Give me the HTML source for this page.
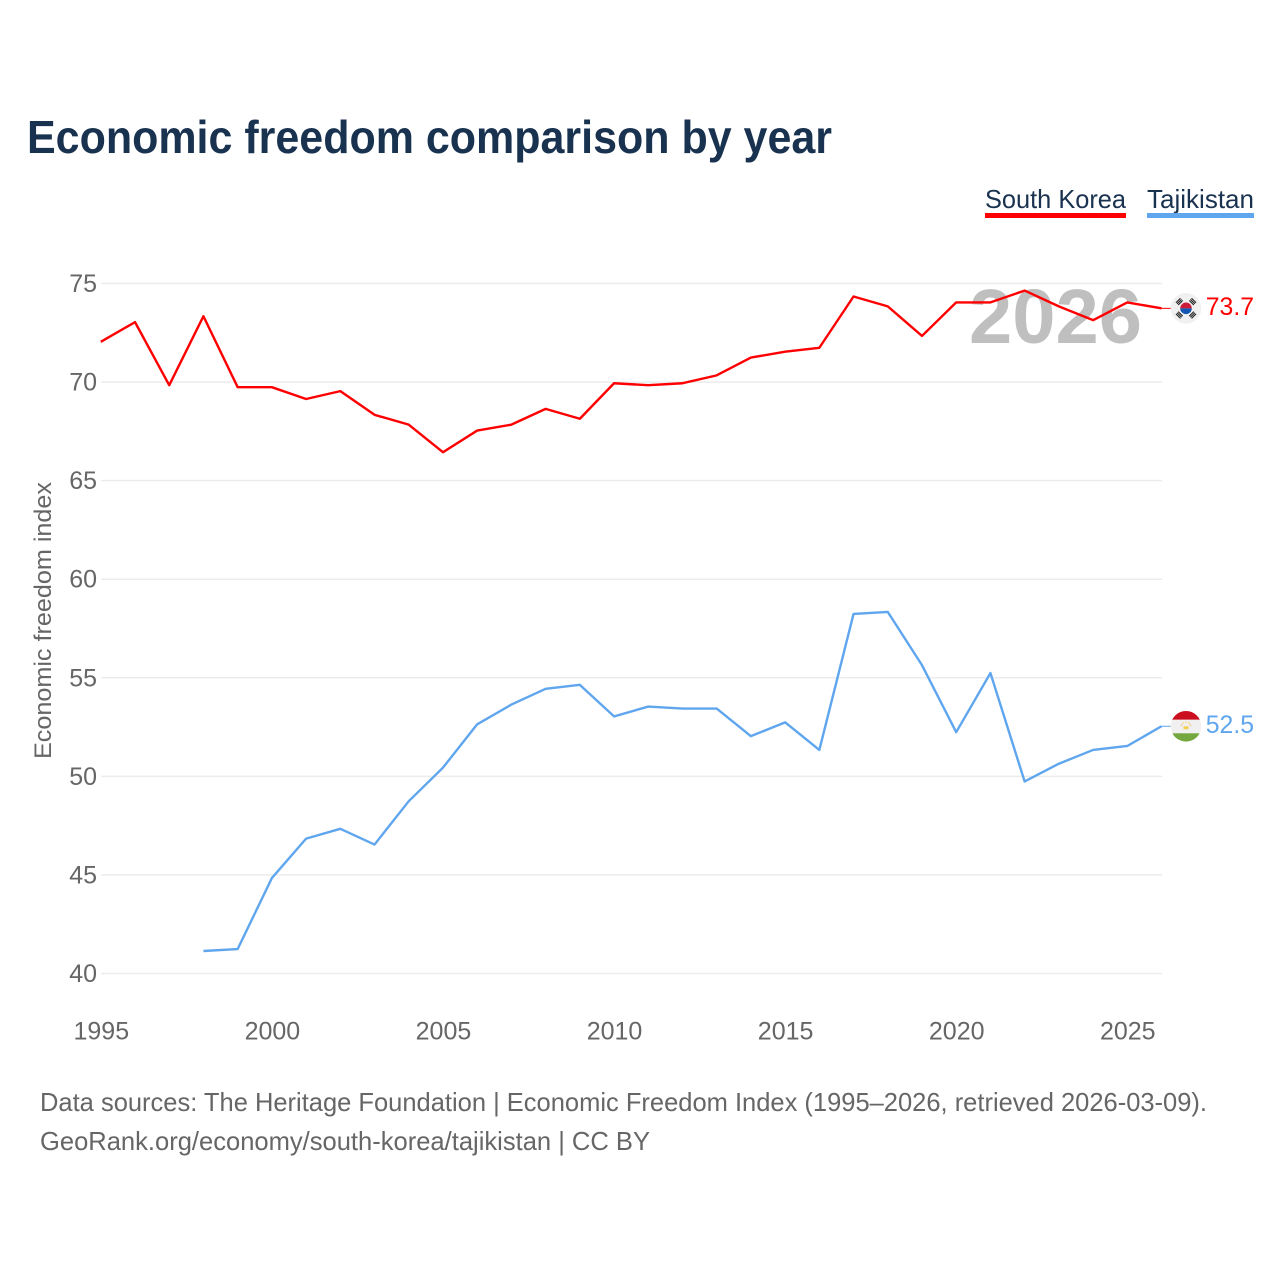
<!DOCTYPE html>
<html lang="en">
<head>
<meta charset="utf-8">
<title>Economic freedom comparison by year</title>
<style>
html,body{margin:0;padding:0;background:#fff;}
svg{display:block;font-family:"Liberation Sans",Arial,sans-serif;}
</style>
</head>
<body>
<svg id="chart" xmlns="http://www.w3.org/2000/svg" width="1280" height="1280" viewBox="0 0 1280 1280">
  <defs>
    <clipPath id="kr-clip"><circle cx="0" cy="0" r="15.3"/></clipPath>
    <clipPath id="tj-clip"><circle cx="0" cy="0" r="15.3"/></clipPath>
  </defs>
  <rect width="1280" height="1280" fill="#fff"/>
  <text x="27" y="153" font-size="46" font-weight="700" fill="#18324f" textLength="805" lengthAdjust="spacingAndGlyphs">Economic freedom comparison by year</text>

  <g>
    <text x="985" y="208" font-size="26" fill="#18324f" textLength="141" lengthAdjust="spacingAndGlyphs">South Korea</text>
    <rect x="985" y="213" width="141" height="5" fill="#ff0000"/>
  </g>
  <g>
    <text x="1147" y="208" font-size="26" fill="#18324f" textLength="107" lengthAdjust="spacingAndGlyphs">Tajikistan</text>
    <rect x="1147" y="213" width="107" height="5" fill="#5fa6ee"/>
  </g>

  <g id="grid"></g>
  <text x="969" y="343" font-size="77" font-weight="700" fill="#bfbfbf" textLength="173" lengthAdjust="spacingAndGlyphs">2026</text>
  <g id="yticks"></g>
  <g id="xticks"></g>
  <text transform="translate(51,759) rotate(-90)" font-size="24" fill="#666" textLength="277" lengthAdjust="spacingAndGlyphs">Economic freedom index</text>
  <g id="series"></g>

  <g id="flag-kr">
    <g clip-path="url(#kr-clip)">
      <rect x="-16" y="-16" width="32" height="32" fill="#f0f0f0"/>
      <path d="M-5.8 0A5.8 5.8 0 0 1 5.8 0Z" fill="#cd1c3a"/>
      <path d="M-5.8 0A5.8 5.8 0 0 0 5.8 0Z" fill="#1257b5"/>
      <g fill="#222">
        <g transform="rotate(-45)">
          <rect x="-3.2" y="-11.6" width="6.4" height="1.1"/><rect x="-3.2" y="-10" width="6.4" height="1.1"/><rect x="-3.2" y="-8.4" width="6.4" height="1.1"/>
          <rect x="-3.2" y="7.3" width="6.4" height="1.1"/><rect x="-3.2" y="8.9" width="6.4" height="1.1"/><rect x="-3.2" y="10.5" width="6.4" height="1.1"/>
        </g>
        <g transform="rotate(45)">
          <rect x="-3.2" y="-11.6" width="6.4" height="1.1"/><rect x="-3.2" y="-10" width="6.4" height="1.1"/><rect x="-3.2" y="-8.4" width="6.4" height="1.1"/>
          <rect x="-3.2" y="7.3" width="6.4" height="1.1"/><rect x="-3.2" y="8.9" width="6.4" height="1.1"/><rect x="-3.2" y="10.5" width="6.4" height="1.1"/>
        </g>
      </g>
    </g>
  </g>
  <g id="flag-tj">
    <g clip-path="url(#tj-clip)">
      <rect x="-16" y="-16" width="32" height="9.5" fill="#cc0f1e"/>
      <rect x="-16" y="-6.5" width="32" height="13.5" fill="#f0f0f0"/>
      <rect x="-16" y="7" width="32" height="9.5" fill="#74a83f"/>
      <rect x="-2.5" y="0" width="5" height="3" fill="#f5cf4e"/>
      <circle cx="-4.5" cy="-1" r="1" fill="#f5c9a8"/><circle cx="4.5" cy="-1" r="1" fill="#f5c9a8"/>
      <circle cx="-3" cy="-3.2" r="0.8" fill="#f5d27a"/><circle cx="3" cy="-3.2" r="0.8" fill="#f5d27a"/>
      <circle cx="0" cy="-4" r="0.8" fill="#f5d27a"/>
    </g>
  </g>
  <g id="end-labels"></g>

  <text x="40" y="1111" font-size="26" fill="#666" textLength="1167" lengthAdjust="spacingAndGlyphs">Data sources: The Heritage Foundation | Economic Freedom Index (1995–2026, retrieved 2026-03-09).</text>
  <a><text x="40" y="1150" font-size="26" fill="#666" textLength="610" lengthAdjust="spacingAndGlyphs">GeoRank.org/economy/south-korea/tajikistan | CC BY</text></a>
</svg>
<script>
const years = [1995,1996,1997,1998,1999,2000,2001,2002,2003,2004,2005,2006,2007,2008,2009,2010,2011,2012,2013,2014,2015,2016,2017,2018,2019,2020,2021,2022,2023,2024,2025,2026];
const southKorea = [72.0,73.0,69.8,73.3,69.7,69.7,69.1,69.5,68.3,67.8,66.4,67.5,67.8,68.6,68.1,69.9,69.8,69.9,70.3,71.2,71.5,71.7,74.3,73.8,72.3,74.0,74.0,74.6,73.8,73.1,74.0,73.7];
const tajikistan = [null,null,null,41.1,41.2,44.8,46.8,47.3,46.5,48.7,50.4,52.6,53.6,54.4,54.6,53.0,53.5,53.4,53.4,52.0,52.7,51.3,58.2,58.3,55.6,52.2,55.2,49.7,50.6,51.3,51.5,52.5];
const yTickLabels = [40,45,50,55,60,65,70,75];
const xTickLabels = [1995,2000,2005,2010,2015,2020,2025];

const NS = 'http://www.w3.org/2000/svg';
const xAt = function (yr) { return 100.8 + (yr - 1995) * (1161.5 - 100.8) / 31; };
const yAt = function (v) { return 973.5 - (v - 40) * (973.5 - 283.5) / 35; };
const lineY = function (v) { return yAt(v) - 0.8; };

function make(tag, parent) {
  const el = document.createElementNS(NS, tag);
  parent.appendChild(el);
  return el;
}

const grid = document.getElementById('grid');
const yticks = document.getElementById('yticks');
yTickLabels.forEach(function (t) {
  const ln = make('line', grid);
  
  
  ln.setAttribute('x1', 101);
  ln.setAttribute('x2', 1162);
  ln.setAttribute('y1', yAt(t));
  ln.setAttribute('y2', yAt(t));
  ln.setAttribute('stroke', '#ececec');
  ln.setAttribute('stroke-width', 1.5);
  const tx = make('text', yticks);
  
  
  tx.setAttribute('x', 97);
  tx.setAttribute('y', yAt(t) + 8.5);
  tx.setAttribute('text-anchor', 'end');
  tx.setAttribute('font-size', 25);
  tx.setAttribute('fill', '#666');
  tx.textContent = t;
});

const xticks = document.getElementById('xticks');
xTickLabels.forEach(function (t) {
  const tx = make('text', xticks);
  
  
  tx.setAttribute('x', xAt(t) + 0.5);
  tx.setAttribute('y', 1039.5);
  tx.setAttribute('text-anchor', 'middle');
  tx.setAttribute('font-size', 25);
  tx.setAttribute('fill', '#666');
  tx.textContent = t;
});

const series = document.getElementById('series');
const endLabels = document.getElementById('end-labels');

function drawSeries(values, color, name, flagId) {
  const pts = [];
  values.forEach(function (v, i) {
    if (v !== null) pts.push(xAt(years[i]).toFixed(2) + ',' + lineY(v).toFixed(2));
  });
  const pl = make('polyline', series);
  
  
  pl.setAttribute('points', pts.join(' '));
  pl.setAttribute('fill', 'none');
  pl.setAttribute('stroke', color);
  pl.setAttribute('stroke-width', 2.4);
  pl.setAttribute('stroke-linejoin', 'round');

  const last = values[values.length - 1];
  const ly = lineY(last);
  const conn = make('line', series);
  
  
  conn.setAttribute('x1', xAt(years[years.length - 1]));
  conn.setAttribute('x2', 1171);
  conn.setAttribute('y1', ly);
  conn.setAttribute('y2', ly);
  conn.setAttribute('stroke', color);
  conn.setAttribute('stroke-width', 1);

  document.getElementById(flagId).setAttribute('transform', 'translate(1186,' + ly + ')');

  const tx = make('text', endLabels);
  
  
  tx.setAttribute('x', 1254);
  tx.setAttribute('y', ly + 6.5);
  tx.setAttribute('text-anchor', 'end');
  tx.setAttribute('font-size', 24.8);
  tx.setAttribute('fill', color);
  tx.textContent = last.toFixed(1);
}

drawSeries(southKorea, '#ff0000', 'south-korea', 'flag-kr');
drawSeries(tajikistan, '#5fa6ee', 'tajikistan', 'flag-tj');
</script>
</body>
</html>
